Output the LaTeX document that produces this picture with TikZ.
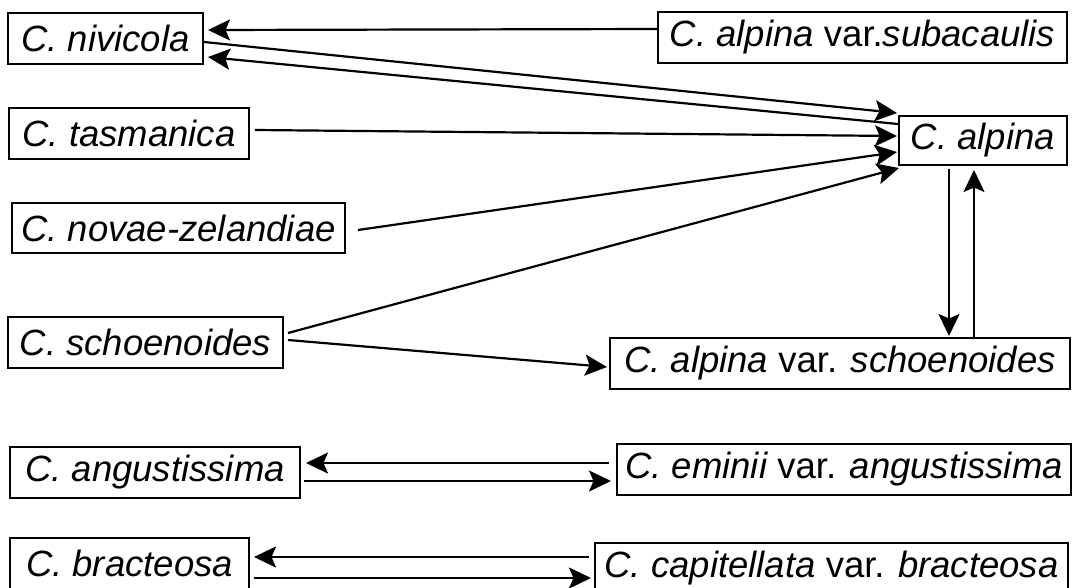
\documentclass[tikz,border=0pt]{standalone}
\usepackage{fontspec}
\setmainfont{Liberation Sans}
\usetikzlibrary{arrows.meta,calc}
\begin{document}
\begin{tikzpicture}[x=1pt,y=-1pt,
  box/.style={draw,line width=2pt,inner sep=0pt,minimum height=51pt,
    font=\fontsize{36.5}{40}\selectfont\itshape},
  conn/.style={line width=2.2pt,-{Stealth[length=22pt,width=21pt,inset=4.5pt]}}]
\useasboundingbox (0,0) rectangle (1073,587);
\clip (0,0) rectangle (1073,587);
\node[box,minimum width=195pt] (niv) at (105.5,38.5) {C. nivicola};
\node[box,minimum width=240pt] (tas) at (129,133.5) {C. tasmanica};
\node[box,minimum width=333pt,minimum height=50pt] (nov) at (178.5,228) {C. novae-zelandiae};
\node[box,minimum width=275pt] (sch) at (145.5,342.5) {C. schoenoides};
\node[box,minimum width=290pt] (ang) at (155,472.5) {C. angustissima};
\node[box,minimum width=239pt] (bra) at (129.5,563.5) {C. bracteosa};
\node[box,minimum width=409pt] (sub) at (862.5,37.5) {C. alpina \upshape var.\itshape subacaulis};
\node[box,minimum width=168pt,minimum height=49pt] (alp) at (983,140.5) {C. alpina};
\node[box,minimum width=460pt] (avs) at (840,363.5) {C. alpina \upshape var. \itshape schoenoides};
\node[box,minimum width=454pt] (emi) at (844,469.5) {C. eminii \upshape var. \itshape angustissima};
\node[box,minimum width=473pt] (cap) at (831.5,568.5) {C. capitellata \upshape var. \itshape bracteosa};
% connectors
\draw[conn] ($(sub.west)+(0,-8.5)$) -- ($(niv.east)+(4,-8.5)$);
\draw[conn] ($(niv.east)+(0,3.5)$) -- ($(alp.west)+(-1,-27.5)$);
\draw[conn] ($(alp.west)+(0,-16.5)$) -- ($(niv.east)+(4,18.5)$);
\draw[conn] ($(tas.east)+(5,-3.5)$) -- ($(alp.west)+(-1,-4.5)$);
\draw[conn] ($(nov.east)+(12,2)$) -- ($(alp.west)+(-1,11.5)$);
\draw[conn] ($(sch.east)+(4,-9.5)$) -- ($(alp.west)+(1,27.5)$);
\draw[conn] ($(sch.east)+(4,-2.5)$) -- ($(avs.west)+(-2,3.5)$);
\draw[conn] ($(alp.south)+(-34,3)$) -- ($(avs.north)+(109,-1)$);
\draw[conn] ($(avs.north)+(134,0)$) -- ($(alp.south)+(-9,4)$);
\draw[conn] ($(emi.west)+(-7,-6.5)$) -- ($(ang.east)+(5,-9.5)$);
\draw[conn] ($(ang.east)+(3,8.5)$) -- ($(emi.west)+(-5,11.5)$);
\draw[conn] ($(cap.west)+(-5,-11.5)$) -- ($(bra.east)+(4,-6.5)$);
\draw[conn] ($(bra.east)+(4,14.5)$) -- ($(cap.west)+(-3,9.5)$);
\end{tikzpicture}
\end{document}
